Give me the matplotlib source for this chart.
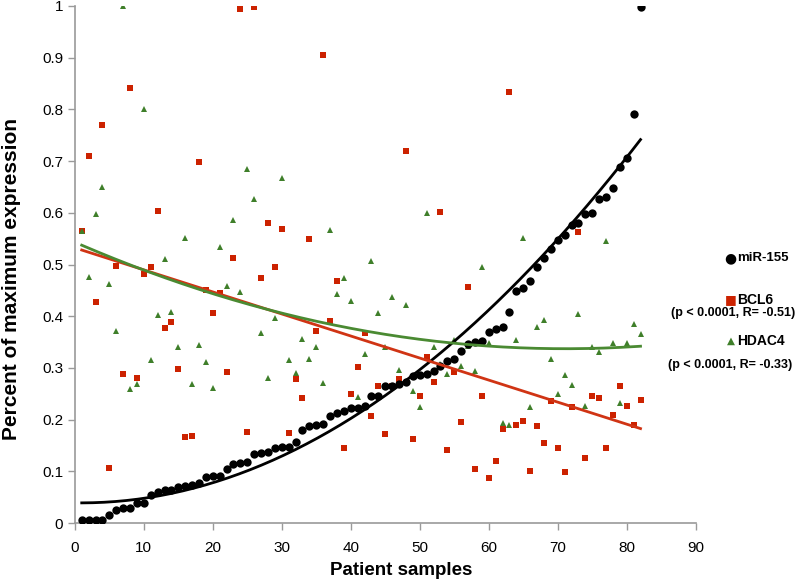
import numpy as np
import matplotlib
matplotlib.use("Agg")
import matplotlib.pyplot as plt

plt.rcParams['font.family'] = ['Liberation Sans', 'DejaVu Sans']

# patient sample index
samples = np.arange(1, 83)

mir155 = [0.007, 0.007, 0.007, 0.007, 0.015, 0.025, 0.03, 0.03, 0.04, 0.04,
          0.055, 0.06, 0.065, 0.065, 0.07, 0.072, 0.073, 0.078, 0.09, 0.092,
          0.092, 0.104, 0.115, 0.117, 0.118, 0.133, 0.135, 0.137, 0.145, 0.147,
          0.148, 0.157, 0.18, 0.188, 0.19, 0.192, 0.207, 0.213, 0.217, 0.222,
          0.222, 0.226, 0.245, 0.245, 0.265, 0.265, 0.27, 0.272, 0.285, 0.287,
          0.289, 0.294, 0.304, 0.313, 0.317, 0.333, 0.346, 0.35, 0.352, 0.37,
          0.375, 0.379, 0.408, 0.449, 0.455, 0.468, 0.495, 0.512, 0.53, 0.547,
          0.557, 0.576, 0.58, 0.597, 0.6, 0.627, 0.631, 0.648, 0.689, 0.706,
          0.79, 0.998]

bcl6 = [0.565, 0.71, 0.428, 0.77, 0.107, 0.497, 0.288, 0.842, 0.28, 0.482,
        0.495, 0.604, 0.377, 0.389, 0.298, 0.166, 0.168, 0.698, 0.45, 0.406,
        0.444, 0.292, 0.513, 0.993, 0.176, 0.998, 0.474, 0.58, 0.496, 0.569,
        0.174, 0.278, 0.242, 0.549, 0.371, 0.904, 0.39, 0.468, 0.145, 0.25,
        0.302, 0.367, 0.207, 0.265, 0.172, 0.265, 0.278, 0.72, 0.162, 0.246,
        0.321, 0.273, 0.602, 0.141, 0.292, 0.195, 0.457, 0.104, 0.246, 0.087,
        0.12, 0.182, 0.834, 0.19, 0.197, 0.10, 0.188, 0.155, 0.236, 0.145,
        0.099, 0.224, 0.563, 0.126, 0.246, 0.242, 0.145, 0.209, 0.265, 0.226,
        0.19, 0.238]

hdac4 = [0.565, 0.476, 0.597, 0.65, 0.462, 0.371, 1.0, 0.259, 0.269, 0.80,
         0.315, 0.402, 0.51, 0.408, 0.341, 0.551, 0.27, 0.344, 0.311, 0.261,
         0.534, 0.458, 0.586, 0.447, 0.685, 0.626, 0.368, 0.28, 0.397, 0.667,
         0.315, 0.29, 0.356, 0.317, 0.341, 0.271, 0.567, 0.443, 0.474, 0.429,
         0.244, 0.327, 0.507, 0.406, 0.341, 0.437, 0.296, 0.422, 0.255, 0.224,
         0.6, 0.341, 0.307, 0.288, 0.355, 0.304, 0.343, 0.294, 0.496, 0.348,
         0.375, 0.193, 0.19, 0.354, 0.551, 0.224, 0.379, 0.393, 0.317, 0.25,
         0.286, 0.268, 0.404, 0.226, 0.34, 0.331, 0.545, 0.348, 0.232, 0.348,
         0.386, 0.366]

black = '#000000'
red = '#cc2200'
green = '#3f7f2a'

fig = plt.figure(figsize=(7.96, 5.82), dpi=100)
ax = fig.add_axes([0.094, 0.101, 0.780, 0.889])

ax.plot(samples, bcl6, 's', color=red, markersize=4.6, markeredgewidth=0, zorder=3)
ax.plot(samples, hdac4, '^', color=green, markersize=5, markeredgewidth=0, zorder=3)
ax.plot(samples, mir155, 'o', color=black, markersize=6, markeredgewidth=0, zorder=4)

# trend lines (poly 2 for miR-155 / HDAC4, linear for BCL6)
xs = np.linspace(1, 82, 200)
ax.plot(xs, np.polyval(np.polyfit(samples, mir155, 2), xs), color=black, lw=2, zorder=5)
ax.plot(xs, np.polyval(np.polyfit(samples, bcl6, 1), xs), color='#d03414', lw=2, zorder=5)
ax.plot(xs, np.polyval(np.polyfit(samples, hdac4, 2), xs), color='#4a8a32', lw=2, zorder=5)

ax.set_xlim(0, 90)
ax.set_ylim(0, 1)
ax.set_xticks(range(0, 91, 10))
ax.set_yticks(np.arange(0, 1.01, 0.1))
ax.set_yticklabels(['0', '0.1', '0.2', '0.3', '0.4', '0.5', '0.6', '0.7', '0.8', '0.9', '1'])
for s in ['top', 'right']:
    ax.spines[s].set_visible(False)
for s in ['left', 'bottom']:
    ax.spines[s].set_color('#9a9a9a')
    ax.spines[s].set_linewidth(1.2)
ax.tick_params(axis='both', colors='#9a9a9a', labelcolor='black', labelsize=11, length=5, width=1)
ax.tick_params(axis='x', pad=8)

ax.set_xlabel('Patient samples', fontsize=13.5, fontweight='bold')
ax.set_ylabel('Percent of maximum expression', fontsize=15, fontweight='bold')
ax.xaxis.set_label_coords(0.525, -0.074)
ax.yaxis.set_label_coords(-0.086, 0.472)

# legend
fig.text(0.917, 0.557, '\u25cf', color=black, fontsize=10, ha='center', va='center', family='DejaVu Sans')
fig.text(0.926, 0.557, 'miR-155', fontsize=9.5, fontweight='bold', va='center')
fig.text(0.918, 0.485, '\u25a0', color=red, fontsize=9, ha='center', va='center', family='DejaVu Sans')
fig.text(0.926, 0.485, 'BCL6', fontsize=10, fontweight='bold', va='center')
fig.text(0.921, 0.462, '(p < 0.0001, R= -0.51)', fontsize=9, fontweight='bold', ha='center', va='center')
fig.text(0.918, 0.414, '\u25b2', color=green, fontsize=7.5, ha='center', va='center', family='DejaVu Sans')
fig.text(0.926, 0.414, 'HDAC4', fontsize=10, fontweight='bold', va='center')
fig.text(0.917, 0.372, '(p < 0.0001, R= -0.33)', fontsize=9, fontweight='bold', ha='center', va='center')

fig.savefig('out.png', dpi=100)
